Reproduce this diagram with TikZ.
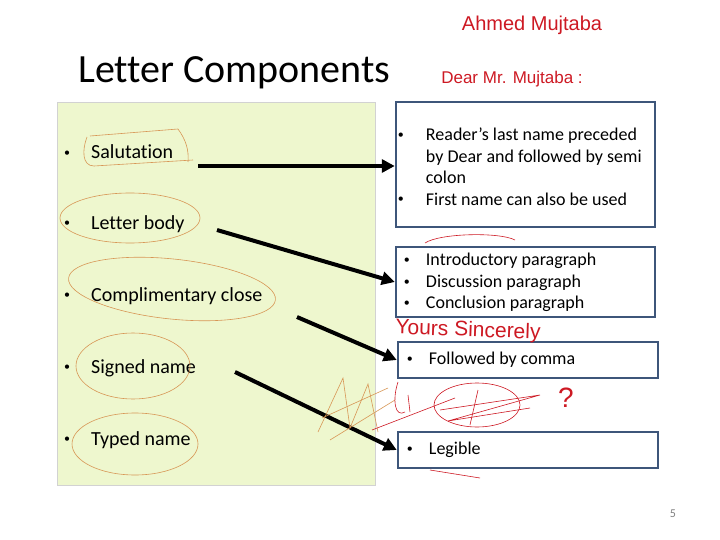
\documentclass[tikz,border=0pt]{standalone}
\usepackage{fontspec}
\setmainfont{Carlito}[Ligatures={TeX,NoCommon}]
\newfontfamily\handfont{Liberation Sans}
\usetikzlibrary{arrows.meta,positioning}
\definecolor{boxblue}{RGB}{62,86,122}
\definecolor{panelgreen}{RGB}{238,247,206}
\definecolor{penred}{RGB}{205,25,35}
\definecolor{penorange}{RGB}{215,150,85}
\newcommand{\compbullet}{\raisebox{0.25ex}{\fontsize{12}{12}\selectfont\textbullet}}

\begin{document}
\begin{tikzpicture}[
    x=1pt, y=-1pt,
    font=\fontsize{20}{24}\selectfont,
    leftitem/.style={
        anchor=west,
        inner sep=0pt
    },
    sidebox/.style={
        draw=boxblue,
        line width=2.5pt,
        minimum width=259pt,
        inner sep=0pt
    },
    boxtext/.style={
        anchor=west,
        inner sep=0pt,
        align=left,
        font=\fontsize{18}{21.5}\selectfont
    },
    arrow/.style={
        -{Triangle[length=13pt,width=13pt]},
        line width=4pt,
        black
    },
    ink/.style={penred, line width=0.6pt},
    ring/.style={penorange, line width=0.6pt},
    hand/.style={text=penred, inner sep=0pt}
]
\useasboundingbox (0,0) rectangle (720,540);

% Title
\node[anchor=west, inner sep=0pt, font=\fontsize{40}{48}\selectfont] (title) at (78,73) {Letter Components};

% Left panel with the components
\node[draw=gray!35, fill=panelgreen, anchor=north west, inner sep=0pt,
      minimum width=318pt, minimum height=383pt] (panel) at (57,102) {};
\node[leftitem] (sal) at (64,152) {\makebox[27pt][l]{\compbullet}Salutation};
\node[leftitem] (body) at (64,224) {\makebox[27pt][l]{\compbullet}Letter body};
\node[leftitem] (close) at (64,296) {\makebox[27pt][l]{\compbullet}Complimentary close};
\node[leftitem] (signed) at (64,368) {\makebox[27pt][l]{\compbullet}Signed name};
\node[leftitem] (typed) at (64,440) {\makebox[27pt][l]{\compbullet}Typed name};

% Boxes on the right
\node[sidebox, minimum height=125pt] (salbox) at (525.5,164.5) {};
\node[sidebox, minimum height=70pt] (bodybox) at (525.5,282) {};
\node[sidebox, minimum width=260pt, minimum height=36pt] (closebox) at (528,360) {};
\node[sidebox, minimum width=260pt, minimum height=36pt] (signbox) at (528,450) {};

\node[boxtext] (saltext) at ([xshift=3pt,yshift=-4pt]salbox.west) {%
    \begin{tabular}{@{}p{28pt}@{}l@{}}
    \compbullet & Reader’s last name preceded\\
                & by Dear and followed by semi\\
                & colon\\
    \compbullet & First name can also be used
    \end{tabular}};
\node[boxtext] (bodytext) at ([xshift=9pt,yshift=-1pt]bodybox.west) {%
    \begin{tabular}{@{}p{22pt}@{}l@{}}
    \compbullet & Introductory paragraph\\
    \compbullet & Discussion paragraph\\
    \compbullet & Conclusion paragraph
    \end{tabular}};
\node[boxtext] (closetext) at ([xshift=10pt]closebox.west) {\makebox[22pt][l]{\compbullet}Followed by comma};
\node[boxtext] (signtext) at ([xshift=10pt]signbox.west) {\makebox[22pt][l]{\compbullet}Legible};

% Arrows
\coordinate (salout) at (198,166);
\coordinate (bodyout) at (217,230);
\coordinate (closeout) at (297,317);
\coordinate (signout) at (235,372);
\draw[arrow] (salout) -- (salout -| salbox.west);
\draw[arrow] (bodyout) -- (bodybox.west);
\draw[arrow] (closeout) -- (closebox.west);
\draw[arrow] (signout) -- (signbox.west);

% Pen marks round the components
\draw[ring] (87,137) .. controls (82,150) and (82,166) .. (94,166) -- (193,160);
\draw[ring] (90,136) -- (178,129) .. controls (186,140) and (189,150) .. (188,162);
\draw[ring] (130,218) ellipse [x radius=70, y radius=25];
\draw[ring, rotate around={-6:(172,289)}] (172,289) ellipse [x radius=104, y radius=30];
\draw[ring] (133,366) ellipse [x radius=57, y radius=33];
\draw[ring] (135,444) ellipse [x radius=63, y radius=31];
\draw[ring] (318,432) -- (343,378) -- (350,428) -- (368,384) -- (378,432);
\draw[ring] (330,440) -- (395,400);
\draw[ring] (322,418) -- (388,388);

% Handwriting
\node[hand, font=\handfont\fontsize{20}{22}\selectfont] (author) at (532,25) {Ahmed Mujtaba};
\node[hand, font=\handfont\fontsize{17}{19}\selectfont] (greeting) at (512,79) {Dear Mr. Mujtaba :};
\node[hand, font=\handfont\fontsize{21}{23}\selectfont, rotate=-2] (closing) at (468,331) {Yours Sincerely};
\node[hand, font=\handfont\fontsize{28}{30}\selectfont] (query) at (566,398) {?};
\draw[ink] (477,405) ellipse [x radius=43, y radius=22];
\draw[ink] (440,410) -- (540,395) -- (448,421) -- (530,408);
\draw[ink] (478,390) -- (470,425);
\draw[ink] (372,430) -- (455,398);
\draw[ink] (398,382) .. controls (392,400) and (395,418) .. (405,412);
\draw[ink] (408,395) -- (410,412);
\draw[ink] (430,470) -- (480,478);
\draw[ink] (425,243) .. controls (440,233) and (500,232) .. (515,240);

% Page number
\node[text=gray, font=\fontsize{12}{14}\selectfont] (pagenum) at (673,514) {5};
\end{tikzpicture}
\end{document}
